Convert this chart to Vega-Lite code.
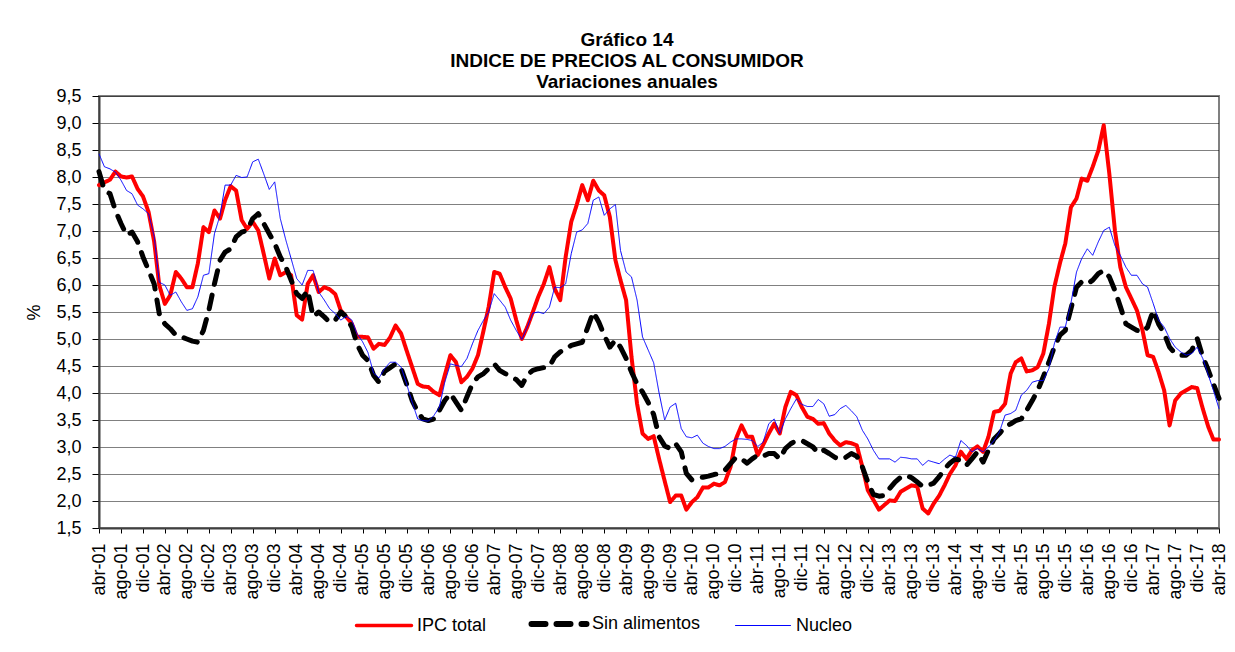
{
  "$schema": "https://vega.github.io/schema/vega-lite/v6.json",
  "width": 1120,
  "height": 432,
  "autosize": {"type": "none"},
  "padding": {"left": 99, "top": 96, "right": 16, "bottom": 124},
  "background": "white",
  "title": {
    "text": ["Gráfico 14", "INDICE DE PRECIOS AL CONSUMIDOR", "Variaciones anuales"],
    "font": "Liberation Sans",
    "fontSize": 19,
    "fontWeight": "bold",
    "color": "#000000",
    "anchor": "middle",
    "frame": "bounds",
    "lineHeight": 21,
    "offset": -5
  },
  "config": {
    "view": {"stroke": "#808080", "strokeWidth": 2},
    "font": "Liberation Sans"
  },
  "data": {
    "values": [
      {"fecha": "2001-04-01", "IPC total": 7.85, "Sin alimentos": 8.1, "Nucleo": 8.43},
      {"fecha": "2001-05-01", "IPC total": 7.9, "Sin alimentos": 7.75, "Nucleo": 8.19},
      {"fecha": "2001-06-01", "IPC total": 7.95, "Sin alimentos": 7.69, "Nucleo": 8.15},
      {"fecha": "2001-07-01", "IPC total": 8.1, "Sin alimentos": 7.38, "Nucleo": 8.09},
      {"fecha": "2001-08-01", "IPC total": 8.01, "Sin alimentos": 7.14, "Nucleo": 7.94},
      {"fecha": "2001-09-01", "IPC total": 7.99, "Sin alimentos": 6.92, "Nucleo": 7.75},
      {"fecha": "2001-10-01", "IPC total": 8.01, "Sin alimentos": 6.98, "Nucleo": 7.69},
      {"fecha": "2001-11-01", "IPC total": 7.78, "Sin alimentos": 6.8, "Nucleo": 7.48},
      {"fecha": "2001-12-01", "IPC total": 7.64, "Sin alimentos": 6.52, "Nucleo": 7.41},
      {"fecha": "2002-01-01", "IPC total": 7.35, "Sin alimentos": 6.27, "Nucleo": 7.32},
      {"fecha": "2002-02-01", "IPC total": 6.8, "Sin alimentos": 6.02, "Nucleo": 6.9},
      {"fecha": "2002-03-01", "IPC total": 6.0, "Sin alimentos": 5.47, "Nucleo": 6.05},
      {"fecha": "2002-04-01", "IPC total": 5.65, "Sin alimentos": 5.28, "Nucleo": 6.0},
      {"fecha": "2002-05-01", "IPC total": 5.81, "Sin alimentos": 5.19, "Nucleo": 5.81},
      {"fecha": "2002-06-01", "IPC total": 6.24, "Sin alimentos": 5.07, "Nucleo": 5.87},
      {"fecha": "2002-07-01", "IPC total": 6.12, "Sin alimentos": 5.04, "Nucleo": 5.69},
      {"fecha": "2002-08-01", "IPC total": 5.96, "Sin alimentos": 5.0, "Nucleo": 5.53},
      {"fecha": "2002-09-01", "IPC total": 5.96, "Sin alimentos": 4.96, "Nucleo": 5.56},
      {"fecha": "2002-10-01", "IPC total": 6.4, "Sin alimentos": 4.94, "Nucleo": 5.78},
      {"fecha": "2002-11-01", "IPC total": 7.07, "Sin alimentos": 5.16, "Nucleo": 6.18},
      {"fecha": "2002-12-01", "IPC total": 6.98, "Sin alimentos": 5.53, "Nucleo": 6.21},
      {"fecha": "2003-01-01", "IPC total": 7.38, "Sin alimentos": 6.02, "Nucleo": 6.95},
      {"fecha": "2003-02-01", "IPC total": 7.23, "Sin alimentos": 6.46, "Nucleo": 7.29},
      {"fecha": "2003-03-01", "IPC total": 7.57, "Sin alimentos": 6.61, "Nucleo": 7.85},
      {"fecha": "2003-04-01", "IPC total": 7.83, "Sin alimentos": 6.67, "Nucleo": 7.85},
      {"fecha": "2003-05-01", "IPC total": 7.75, "Sin alimentos": 6.89, "Nucleo": 8.03},
      {"fecha": "2003-06-01", "IPC total": 7.2, "Sin alimentos": 6.98, "Nucleo": 7.99},
      {"fecha": "2003-07-01", "IPC total": 7.04, "Sin alimentos": 7.01, "Nucleo": 8.0},
      {"fecha": "2003-08-01", "IPC total": 7.17, "Sin alimentos": 7.23, "Nucleo": 8.28},
      {"fecha": "2003-09-01", "IPC total": 7.01, "Sin alimentos": 7.32, "Nucleo": 8.33},
      {"fecha": "2003-10-01", "IPC total": 6.58, "Sin alimentos": 7.14, "Nucleo": 8.06},
      {"fecha": "2003-11-01", "IPC total": 6.12, "Sin alimentos": 6.95, "Nucleo": 7.77},
      {"fecha": "2003-12-01", "IPC total": 6.49, "Sin alimentos": 6.77, "Nucleo": 7.91},
      {"fecha": "2004-01-01", "IPC total": 6.18, "Sin alimentos": 6.52, "Nucleo": 7.23},
      {"fecha": "2004-02-01", "IPC total": 6.24, "Sin alimentos": 6.33, "Nucleo": 6.83},
      {"fecha": "2004-03-01", "IPC total": 6.18, "Sin alimentos": 6.09, "Nucleo": 6.49},
      {"fecha": "2004-04-01", "IPC total": 5.44, "Sin alimentos": 5.84, "Nucleo": 6.12},
      {"fecha": "2004-05-01", "IPC total": 5.36, "Sin alimentos": 5.75, "Nucleo": 6.0},
      {"fecha": "2004-06-01", "IPC total": 6.02, "Sin alimentos": 5.9, "Nucleo": 6.27},
      {"fecha": "2004-07-01", "IPC total": 6.18, "Sin alimentos": 5.41, "Nucleo": 6.27},
      {"fecha": "2004-08-01", "IPC total": 5.87, "Sin alimentos": 5.5, "Nucleo": 5.87},
      {"fecha": "2004-09-01", "IPC total": 5.96, "Sin alimentos": 5.41, "Nucleo": 5.72},
      {"fecha": "2004-10-01", "IPC total": 5.92, "Sin alimentos": 5.31, "Nucleo": 5.56},
      {"fecha": "2004-11-01", "IPC total": 5.83, "Sin alimentos": 5.35, "Nucleo": 5.47},
      {"fecha": "2004-12-01", "IPC total": 5.53, "Sin alimentos": 5.5, "Nucleo": 5.35},
      {"fecha": "2005-01-01", "IPC total": 5.41, "Sin alimentos": 5.41, "Nucleo": 5.42},
      {"fecha": "2005-02-01", "IPC total": 5.28, "Sin alimentos": 5.22, "Nucleo": 5.35},
      {"fecha": "2005-03-01", "IPC total": 5.04, "Sin alimentos": 4.91, "Nucleo": 5.1},
      {"fecha": "2005-04-01", "IPC total": 5.04, "Sin alimentos": 4.7, "Nucleo": 4.95},
      {"fecha": "2005-05-01", "IPC total": 5.03, "Sin alimentos": 4.6, "Nucleo": 4.75},
      {"fecha": "2005-06-01", "IPC total": 4.82, "Sin alimentos": 4.33, "Nucleo": 4.37},
      {"fecha": "2005-07-01", "IPC total": 4.91, "Sin alimentos": 4.2, "Nucleo": 4.28},
      {"fecha": "2005-08-01", "IPC total": 4.89, "Sin alimentos": 4.4, "Nucleo": 4.45},
      {"fecha": "2005-09-01", "IPC total": 5.03, "Sin alimentos": 4.47, "Nucleo": 4.57},
      {"fecha": "2005-10-01", "IPC total": 5.25, "Sin alimentos": 4.54, "Nucleo": 4.57},
      {"fecha": "2005-11-01", "IPC total": 5.1, "Sin alimentos": 4.45, "Nucleo": 4.48},
      {"fecha": "2005-12-01", "IPC total": 4.79, "Sin alimentos": 4.17, "Nucleo": 4.17},
      {"fecha": "2006-01-01", "IPC total": 4.48, "Sin alimentos": 3.86, "Nucleo": 3.83},
      {"fecha": "2006-02-01", "IPC total": 4.17, "Sin alimentos": 3.65, "Nucleo": 3.52},
      {"fecha": "2006-03-01", "IPC total": 4.12, "Sin alimentos": 3.52, "Nucleo": 3.49},
      {"fecha": "2006-04-01", "IPC total": 4.11, "Sin alimentos": 3.49, "Nucleo": 3.48},
      {"fecha": "2006-05-01", "IPC total": 4.02, "Sin alimentos": 3.52, "Nucleo": 3.58},
      {"fecha": "2006-06-01", "IPC total": 3.96, "Sin alimentos": 3.68, "Nucleo": 3.74},
      {"fecha": "2006-07-01", "IPC total": 4.33, "Sin alimentos": 3.86, "Nucleo": 4.2},
      {"fecha": "2006-08-01", "IPC total": 4.7, "Sin alimentos": 3.99, "Nucleo": 4.54},
      {"fecha": "2006-09-01", "IPC total": 4.57, "Sin alimentos": 3.83, "Nucleo": 4.51},
      {"fecha": "2006-10-01", "IPC total": 4.2, "Sin alimentos": 3.68, "Nucleo": 4.49},
      {"fecha": "2006-11-01", "IPC total": 4.3, "Sin alimentos": 3.93, "Nucleo": 4.64},
      {"fecha": "2006-12-01", "IPC total": 4.45, "Sin alimentos": 4.17, "Nucleo": 4.91},
      {"fecha": "2007-01-01", "IPC total": 4.7, "Sin alimentos": 4.3, "Nucleo": 5.16},
      {"fecha": "2007-02-01", "IPC total": 5.16, "Sin alimentos": 4.36, "Nucleo": 5.35},
      {"fecha": "2007-03-01", "IPC total": 5.59, "Sin alimentos": 4.45, "Nucleo": 5.5},
      {"fecha": "2007-04-01", "IPC total": 6.24, "Sin alimentos": 4.54, "Nucleo": 5.84},
      {"fecha": "2007-05-01", "IPC total": 6.21, "Sin alimentos": 4.42, "Nucleo": 5.72},
      {"fecha": "2007-06-01", "IPC total": 5.96, "Sin alimentos": 4.36, "Nucleo": 5.59},
      {"fecha": "2007-07-01", "IPC total": 5.75, "Sin alimentos": 4.3, "Nucleo": 5.35},
      {"fecha": "2007-08-01", "IPC total": 5.35, "Sin alimentos": 4.25, "Nucleo": 5.16},
      {"fecha": "2007-09-01", "IPC total": 5.0, "Sin alimentos": 4.14, "Nucleo": 4.99},
      {"fecha": "2007-10-01", "IPC total": 5.22, "Sin alimentos": 4.33, "Nucleo": 5.22},
      {"fecha": "2007-11-01", "IPC total": 5.5, "Sin alimentos": 4.42, "Nucleo": 5.48},
      {"fecha": "2007-12-01", "IPC total": 5.78, "Sin alimentos": 4.45, "Nucleo": 5.5},
      {"fecha": "2008-01-01", "IPC total": 6.02, "Sin alimentos": 4.47, "Nucleo": 5.47},
      {"fecha": "2008-02-01", "IPC total": 6.33, "Sin alimentos": 4.49, "Nucleo": 5.59},
      {"fecha": "2008-03-01", "IPC total": 5.93, "Sin alimentos": 4.67, "Nucleo": 5.96},
      {"fecha": "2008-04-01", "IPC total": 5.72, "Sin alimentos": 4.76, "Nucleo": 5.95},
      {"fecha": "2008-05-01", "IPC total": 6.52, "Sin alimentos": 4.82, "Nucleo": 6.02},
      {"fecha": "2008-06-01", "IPC total": 7.17, "Sin alimentos": 4.88, "Nucleo": 6.58},
      {"fecha": "2008-07-01", "IPC total": 7.48, "Sin alimentos": 4.91, "Nucleo": 6.98},
      {"fecha": "2008-08-01", "IPC total": 7.85, "Sin alimentos": 4.94, "Nucleo": 7.02},
      {"fecha": "2008-09-01", "IPC total": 7.57, "Sin alimentos": 5.22, "Nucleo": 7.14},
      {"fecha": "2008-10-01", "IPC total": 7.93, "Sin alimentos": 5.5, "Nucleo": 7.57},
      {"fecha": "2008-11-01", "IPC total": 7.75, "Sin alimentos": 5.31, "Nucleo": 7.63},
      {"fecha": "2008-12-01", "IPC total": 7.66, "Sin alimentos": 5.07, "Nucleo": 7.29},
      {"fecha": "2009-01-01", "IPC total": 7.26, "Sin alimentos": 4.85, "Nucleo": 7.41},
      {"fecha": "2009-02-01", "IPC total": 6.46, "Sin alimentos": 4.98, "Nucleo": 7.49},
      {"fecha": "2009-03-01", "IPC total": 6.09, "Sin alimentos": 4.85, "Nucleo": 6.64},
      {"fecha": "2009-04-01", "IPC total": 5.72, "Sin alimentos": 4.64, "Nucleo": 6.24},
      {"fecha": "2009-05-01", "IPC total": 4.67, "Sin alimentos": 4.39, "Nucleo": 6.15},
      {"fecha": "2009-06-01", "IPC total": 3.8, "Sin alimentos": 4.17, "Nucleo": 5.72},
      {"fecha": "2009-07-01", "IPC total": 3.25, "Sin alimentos": 4.02, "Nucleo": 5.04},
      {"fecha": "2009-08-01", "IPC total": 3.15, "Sin alimentos": 3.83, "Nucleo": 4.8},
      {"fecha": "2009-09-01", "IPC total": 3.2, "Sin alimentos": 3.6, "Nucleo": 4.56},
      {"fecha": "2009-10-01", "IPC total": 2.78, "Sin alimentos": 3.19, "Nucleo": 4.0},
      {"fecha": "2009-11-01", "IPC total": 2.37, "Sin alimentos": 3.02, "Nucleo": 3.5},
      {"fecha": "2009-12-01", "IPC total": 1.98, "Sin alimentos": 2.97, "Nucleo": 3.74},
      {"fecha": "2010-01-01", "IPC total": 2.1, "Sin alimentos": 3.06, "Nucleo": 3.81},
      {"fecha": "2010-02-01", "IPC total": 2.1, "Sin alimentos": 2.91, "Nucleo": 3.34},
      {"fecha": "2010-03-01", "IPC total": 1.84, "Sin alimentos": 2.51, "Nucleo": 3.19},
      {"fecha": "2010-04-01", "IPC total": 1.98, "Sin alimentos": 2.39, "Nucleo": 3.17},
      {"fecha": "2010-05-01", "IPC total": 2.07, "Sin alimentos": 2.43, "Nucleo": 3.22},
      {"fecha": "2010-06-01", "IPC total": 2.25, "Sin alimentos": 2.44, "Nucleo": 3.07},
      {"fecha": "2010-07-01", "IPC total": 2.25, "Sin alimentos": 2.46, "Nucleo": 3.01},
      {"fecha": "2010-08-01", "IPC total": 2.32, "Sin alimentos": 2.49, "Nucleo": 2.97},
      {"fecha": "2010-09-01", "IPC total": 2.29, "Sin alimentos": 2.51, "Nucleo": 2.97},
      {"fecha": "2010-10-01", "IPC total": 2.35, "Sin alimentos": 2.57, "Nucleo": 3.01},
      {"fecha": "2010-11-01", "IPC total": 2.63, "Sin alimentos": 2.69, "Nucleo": 3.09},
      {"fecha": "2010-12-01", "IPC total": 3.15, "Sin alimentos": 2.81, "Nucleo": 3.15},
      {"fecha": "2011-01-01", "IPC total": 3.4, "Sin alimentos": 2.78, "Nucleo": 3.15},
      {"fecha": "2011-02-01", "IPC total": 3.19, "Sin alimentos": 2.7, "Nucleo": 3.14},
      {"fecha": "2011-03-01", "IPC total": 3.19, "Sin alimentos": 2.78, "Nucleo": 3.12},
      {"fecha": "2011-04-01", "IPC total": 2.85, "Sin alimentos": 2.85, "Nucleo": 3.01},
      {"fecha": "2011-05-01", "IPC total": 3.04, "Sin alimentos": 2.83, "Nucleo": 3.09},
      {"fecha": "2011-06-01", "IPC total": 3.25, "Sin alimentos": 2.88, "Nucleo": 3.43},
      {"fecha": "2011-07-01", "IPC total": 3.43, "Sin alimentos": 2.88, "Nucleo": 3.52},
      {"fecha": "2011-08-01", "IPC total": 3.25, "Sin alimentos": 2.78, "Nucleo": 3.25},
      {"fecha": "2011-09-01", "IPC total": 3.74, "Sin alimentos": 2.97, "Nucleo": 3.52},
      {"fecha": "2011-10-01", "IPC total": 4.02, "Sin alimentos": 3.06, "Nucleo": 3.71},
      {"fecha": "2011-11-01", "IPC total": 3.96, "Sin alimentos": 3.12, "Nucleo": 3.89},
      {"fecha": "2011-12-01", "IPC total": 3.74, "Sin alimentos": 3.12, "Nucleo": 3.79},
      {"fecha": "2012-01-01", "IPC total": 3.56, "Sin alimentos": 3.06, "Nucleo": 3.75},
      {"fecha": "2012-02-01", "IPC total": 3.52, "Sin alimentos": 3.0, "Nucleo": 3.75},
      {"fecha": "2012-03-01", "IPC total": 3.43, "Sin alimentos": 2.89, "Nucleo": 3.88},
      {"fecha": "2012-04-01", "IPC total": 3.44, "Sin alimentos": 2.94, "Nucleo": 3.8},
      {"fecha": "2012-05-01", "IPC total": 3.25, "Sin alimentos": 2.88, "Nucleo": 3.57},
      {"fecha": "2012-06-01", "IPC total": 3.12, "Sin alimentos": 2.81, "Nucleo": 3.6},
      {"fecha": "2012-07-01", "IPC total": 3.03, "Sin alimentos": 2.77, "Nucleo": 3.71},
      {"fecha": "2012-08-01", "IPC total": 3.09, "Sin alimentos": 2.81, "Nucleo": 3.77},
      {"fecha": "2012-09-01", "IPC total": 3.07, "Sin alimentos": 2.88, "Nucleo": 3.67},
      {"fecha": "2012-10-01", "IPC total": 3.03, "Sin alimentos": 2.83, "Nucleo": 3.56},
      {"fecha": "2012-11-01", "IPC total": 2.63, "Sin alimentos": 2.63, "Nucleo": 3.31},
      {"fecha": "2012-12-01", "IPC total": 2.2, "Sin alimentos": 2.35, "Nucleo": 3.15},
      {"fecha": "2013-01-01", "IPC total": 2.02, "Sin alimentos": 2.12, "Nucleo": 2.94},
      {"fecha": "2013-02-01", "IPC total": 1.84, "Sin alimentos": 2.09, "Nucleo": 2.78},
      {"fecha": "2013-03-01", "IPC total": 1.92, "Sin alimentos": 2.1, "Nucleo": 2.78},
      {"fecha": "2013-04-01", "IPC total": 2.01, "Sin alimentos": 2.23, "Nucleo": 2.78},
      {"fecha": "2013-05-01", "IPC total": 2.0, "Sin alimentos": 2.35, "Nucleo": 2.72},
      {"fecha": "2013-06-01", "IPC total": 2.17, "Sin alimentos": 2.44, "Nucleo": 2.81},
      {"fecha": "2013-07-01", "IPC total": 2.23, "Sin alimentos": 2.48, "Nucleo": 2.8},
      {"fecha": "2013-08-01", "IPC total": 2.29, "Sin alimentos": 2.43, "Nucleo": 2.78},
      {"fecha": "2013-09-01", "IPC total": 2.27, "Sin alimentos": 2.35, "Nucleo": 2.78},
      {"fecha": "2013-10-01", "IPC total": 1.86, "Sin alimentos": 2.27, "Nucleo": 2.66},
      {"fecha": "2013-11-01", "IPC total": 1.77, "Sin alimentos": 2.29, "Nucleo": 2.75},
      {"fecha": "2013-12-01", "IPC total": 1.95, "Sin alimentos": 2.33, "Nucleo": 2.72},
      {"fecha": "2014-01-01", "IPC total": 2.1, "Sin alimentos": 2.45, "Nucleo": 2.69},
      {"fecha": "2014-02-01", "IPC total": 2.3, "Sin alimentos": 2.6, "Nucleo": 2.78},
      {"fecha": "2014-03-01", "IPC total": 2.5, "Sin alimentos": 2.7, "Nucleo": 2.85},
      {"fecha": "2014-04-01", "IPC total": 2.66, "Sin alimentos": 2.78, "Nucleo": 2.81},
      {"fecha": "2014-05-01", "IPC total": 2.91, "Sin alimentos": 2.75, "Nucleo": 3.12},
      {"fecha": "2014-06-01", "IPC total": 2.78, "Sin alimentos": 2.66, "Nucleo": 3.03},
      {"fecha": "2014-07-01", "IPC total": 2.94, "Sin alimentos": 2.78, "Nucleo": 2.91},
      {"fecha": "2014-08-01", "IPC total": 3.01, "Sin alimentos": 2.91, "Nucleo": 2.97},
      {"fecha": "2014-09-01", "IPC total": 2.91, "Sin alimentos": 2.72, "Nucleo": 2.91},
      {"fecha": "2014-10-01", "IPC total": 3.19, "Sin alimentos": 2.94, "Nucleo": 3.0},
      {"fecha": "2014-11-01", "IPC total": 3.65, "Sin alimentos": 3.15, "Nucleo": 3.12},
      {"fecha": "2014-12-01", "IPC total": 3.67, "Sin alimentos": 3.25, "Nucleo": 3.28},
      {"fecha": "2015-01-01", "IPC total": 3.8, "Sin alimentos": 3.37, "Nucleo": 3.59},
      {"fecha": "2015-02-01", "IPC total": 4.36, "Sin alimentos": 3.43, "Nucleo": 3.62},
      {"fecha": "2015-03-01", "IPC total": 4.57, "Sin alimentos": 3.49, "Nucleo": 3.68},
      {"fecha": "2015-04-01", "IPC total": 4.64, "Sin alimentos": 3.52, "Nucleo": 3.96},
      {"fecha": "2015-05-01", "IPC total": 4.4, "Sin alimentos": 3.68, "Nucleo": 4.05},
      {"fecha": "2015-06-01", "IPC total": 4.42, "Sin alimentos": 3.86, "Nucleo": 4.2},
      {"fecha": "2015-07-01", "IPC total": 4.48, "Sin alimentos": 4.05, "Nucleo": 4.23},
      {"fecha": "2015-08-01", "IPC total": 4.73, "Sin alimentos": 4.3, "Nucleo": 4.23},
      {"fecha": "2015-09-01", "IPC total": 5.28, "Sin alimentos": 4.57, "Nucleo": 4.45},
      {"fecha": "2015-10-01", "IPC total": 5.96, "Sin alimentos": 4.85, "Nucleo": 4.91},
      {"fecha": "2015-11-01", "IPC total": 6.4, "Sin alimentos": 5.07, "Nucleo": 5.22},
      {"fecha": "2015-12-01", "IPC total": 6.77, "Sin alimentos": 5.16, "Nucleo": 5.22},
      {"fecha": "2016-01-01", "IPC total": 7.44, "Sin alimentos": 5.56, "Nucleo": 5.66},
      {"fecha": "2016-02-01", "IPC total": 7.6, "Sin alimentos": 5.96, "Nucleo": 6.24},
      {"fecha": "2016-03-01", "IPC total": 7.97, "Sin alimentos": 6.06, "Nucleo": 6.49},
      {"fecha": "2016-04-01", "IPC total": 7.93, "Sin alimentos": 6.02, "Nucleo": 6.67},
      {"fecha": "2016-05-01", "IPC total": 8.19, "Sin alimentos": 6.09, "Nucleo": 6.55},
      {"fecha": "2016-06-01", "IPC total": 8.49, "Sin alimentos": 6.21, "Nucleo": 6.8},
      {"fecha": "2016-07-01", "IPC total": 8.96, "Sin alimentos": 6.27, "Nucleo": 7.01},
      {"fecha": "2016-08-01", "IPC total": 8.06, "Sin alimentos": 6.15, "Nucleo": 7.07},
      {"fecha": "2016-09-01", "IPC total": 7.01, "Sin alimentos": 5.9, "Nucleo": 6.73},
      {"fecha": "2016-10-01", "IPC total": 6.33, "Sin alimentos": 5.6, "Nucleo": 6.55},
      {"fecha": "2016-11-01", "IPC total": 5.96, "Sin alimentos": 5.28, "Nucleo": 6.33},
      {"fecha": "2016-12-01", "IPC total": 5.75, "Sin alimentos": 5.22, "Nucleo": 6.18},
      {"fecha": "2017-01-01", "IPC total": 5.53, "Sin alimentos": 5.16, "Nucleo": 6.18},
      {"fecha": "2017-02-01", "IPC total": 5.16, "Sin alimentos": 5.13, "Nucleo": 6.02},
      {"fecha": "2017-03-01", "IPC total": 4.7, "Sin alimentos": 5.22, "Nucleo": 5.96},
      {"fecha": "2017-04-01", "IPC total": 4.67, "Sin alimentos": 5.53, "Nucleo": 5.66},
      {"fecha": "2017-05-01", "IPC total": 4.39, "Sin alimentos": 5.28, "Nucleo": 5.35},
      {"fecha": "2017-06-01", "IPC total": 4.05, "Sin alimentos": 5.1, "Nucleo": 5.22},
      {"fecha": "2017-07-01", "IPC total": 3.4, "Sin alimentos": 4.85, "Nucleo": 5.01},
      {"fecha": "2017-08-01", "IPC total": 3.86, "Sin alimentos": 4.73, "Nucleo": 4.85},
      {"fecha": "2017-09-01", "IPC total": 3.99, "Sin alimentos": 4.7, "Nucleo": 4.76},
      {"fecha": "2017-10-01", "IPC total": 4.05, "Sin alimentos": 4.7, "Nucleo": 4.7},
      {"fecha": "2017-11-01", "IPC total": 4.11, "Sin alimentos": 4.79, "Nucleo": 4.73},
      {"fecha": "2017-12-01", "IPC total": 4.09, "Sin alimentos": 5.01, "Nucleo": 4.85},
      {"fecha": "2018-01-01", "IPC total": 3.71, "Sin alimentos": 4.67, "Nucleo": 4.64},
      {"fecha": "2018-02-01", "IPC total": 3.37, "Sin alimentos": 4.42, "Nucleo": 4.33},
      {"fecha": "2018-03-01", "IPC total": 3.14, "Sin alimentos": 4.17, "Nucleo": 4.05},
      {"fecha": "2018-04-01", "IPC total": 3.14, "Sin alimentos": 3.9, "Nucleo": 3.71}
    ]
  },
  "transform": [
    {"fold": ["IPC total", "Sin alimentos", "Nucleo"], "as": ["serie", "valor"]}
  ],
  "encoding": {
    "x": {
      "field": "fecha",
      "type": "temporal",
      "scale": {
        "type": "utc",
        "nice": false,
        "domain": [
          {"year": 2001, "month": 4, "date": 1, "utc": true},
          {"year": 2018, "month": 4, "date": 1, "utc": true}
        ]
      },
      "axis": {
        "title": null,
        "grid": false,
        "values": [
          {"year": 2001, "month": 4, "date": 1, "utc": true}, {"year": 2001, "month": 8, "date": 1, "utc": true}, {"year": 2001, "month": 12, "date": 1, "utc": true},
          {"year": 2002, "month": 4, "date": 1, "utc": true}, {"year": 2002, "month": 8, "date": 1, "utc": true}, {"year": 2002, "month": 12, "date": 1, "utc": true},
          {"year": 2003, "month": 4, "date": 1, "utc": true}, {"year": 2003, "month": 8, "date": 1, "utc": true}, {"year": 2003, "month": 12, "date": 1, "utc": true},
          {"year": 2004, "month": 4, "date": 1, "utc": true}, {"year": 2004, "month": 8, "date": 1, "utc": true}, {"year": 2004, "month": 12, "date": 1, "utc": true},
          {"year": 2005, "month": 4, "date": 1, "utc": true}, {"year": 2005, "month": 8, "date": 1, "utc": true}, {"year": 2005, "month": 12, "date": 1, "utc": true},
          {"year": 2006, "month": 4, "date": 1, "utc": true}, {"year": 2006, "month": 8, "date": 1, "utc": true}, {"year": 2006, "month": 12, "date": 1, "utc": true},
          {"year": 2007, "month": 4, "date": 1, "utc": true}, {"year": 2007, "month": 8, "date": 1, "utc": true}, {"year": 2007, "month": 12, "date": 1, "utc": true},
          {"year": 2008, "month": 4, "date": 1, "utc": true}, {"year": 2008, "month": 8, "date": 1, "utc": true}, {"year": 2008, "month": 12, "date": 1, "utc": true},
          {"year": 2009, "month": 4, "date": 1, "utc": true}, {"year": 2009, "month": 8, "date": 1, "utc": true}, {"year": 2009, "month": 12, "date": 1, "utc": true},
          {"year": 2010, "month": 4, "date": 1, "utc": true}, {"year": 2010, "month": 8, "date": 1, "utc": true}, {"year": 2010, "month": 12, "date": 1, "utc": true},
          {"year": 2011, "month": 4, "date": 1, "utc": true}, {"year": 2011, "month": 8, "date": 1, "utc": true}, {"year": 2011, "month": 12, "date": 1, "utc": true},
          {"year": 2012, "month": 4, "date": 1, "utc": true}, {"year": 2012, "month": 8, "date": 1, "utc": true}, {"year": 2012, "month": 12, "date": 1, "utc": true},
          {"year": 2013, "month": 4, "date": 1, "utc": true}, {"year": 2013, "month": 8, "date": 1, "utc": true}, {"year": 2013, "month": 12, "date": 1, "utc": true},
          {"year": 2014, "month": 4, "date": 1, "utc": true}, {"year": 2014, "month": 8, "date": 1, "utc": true}, {"year": 2014, "month": 12, "date": 1, "utc": true},
          {"year": 2015, "month": 4, "date": 1, "utc": true}, {"year": 2015, "month": 8, "date": 1, "utc": true}, {"year": 2015, "month": 12, "date": 1, "utc": true},
          {"year": 2016, "month": 4, "date": 1, "utc": true}, {"year": 2016, "month": 8, "date": 1, "utc": true}, {"year": 2016, "month": 12, "date": 1, "utc": true},
          {"year": 2017, "month": 4, "date": 1, "utc": true}, {"year": 2017, "month": 8, "date": 1, "utc": true}, {"year": 2017, "month": 12, "date": 1, "utc": true},
          {"year": 2018, "month": 4, "date": 1, "utc": true}
        ],
        "labelExpr": "['ene','feb','mar','abr','may','jun','jul','ago','sep','oct','nov','dic'][utcmonth(datum.value)] + '-' + utcFormat(datum.value, '%y')",
        "labelAngle": 270,
        "labelFont": "Liberation Sans",
        "labelFontSize": 18,
        "labelColor": "#000000",
        "labelOverlap": false,
        "labelFlush": false,
        "labelBound": false,
        "labelPadding": 10,
        "tickSize": 5,
        "tickColor": "#000000",
        "domainColor": "#404040",
        "domainWidth": 2
      }
    },
    "y": {
      "field": "valor",
      "type": "quantitative",
      "scale": {"domain": [1.5, 9.5], "nice": false, "zero": false},
      "axis": {
        "title": "%",
        "titleFont": "Liberation Sans",
        "titleFontSize": 18,
        "titleFontWeight": "normal",
        "titleColor": "#000000",
        "titlePadding": 12,
        "values": [1.5, 2, 2.5, 3, 3.5, 4, 4.5, 5, 5.5, 6, 6.5, 7, 7.5, 8, 8.5, 9, 9.5],
        "labelExpr": "replace(format(datum.value, '.1f'), '.', ',')",
        "labelFont": "Liberation Sans",
        "labelFontSize": 18,
        "labelColor": "#000000",
        "labelPadding": 11,
        "tickSize": 7,
        "tickColor": "#000000",
        "grid": true,
        "gridColor": "#000000",
        "gridDash": [1, 1],
        "gridWidth": 1,
        "domainColor": "#404040",
        "domainWidth": 2
      }
    },
    "color": {
      "field": "serie",
      "type": "nominal",
      "scale": {"domain": ["IPC total", "Sin alimentos", "Nucleo"], "range": ["#FF0000", "#000000", "#0000FF"]},
      "legend": {
        "orient": "none",
        "legendX": 276,
        "legendY": 519,
        "direction": "horizontal",
        "title": null,
        "symbolType": "stroke",
        "symbolSize": 3025,
        "labelFont": "Liberation Sans",
        "labelFontSize": 18,
        "labelColor": "#000000",
        "labelOffset": 24,
        "columnPadding": 32,
        "padding": 0,
        "encode": {
          "symbols": {
            "update": {
              "strokeWidth": {"signal": "datum.value === 'Nucleo' ? 1 : datum.value === 'IPC total' ? 3.5 : 6"},
              "strokeCap": {"value": "round"}
            }
          }
        }
      }
    },
    "strokeDash": {
      "field": "serie",
      "type": "nominal",
      "scale": {"domain": ["IPC total", "Sin alimentos", "Nucleo"], "range": [[1, 0], [14, 11], [1, 0]]},
      "legend": {
        "orient": "none",
        "legendX": 276,
        "legendY": 519,
        "direction": "horizontal",
        "title": null,
        "symbolType": "stroke",
        "symbolSize": 3025,
        "labelFont": "Liberation Sans",
        "labelFontSize": 18,
        "labelColor": "#000000",
        "labelOffset": 24,
        "columnPadding": 32,
        "padding": 0,
        "encode": {
          "symbols": {
            "update": {
              "strokeWidth": {"signal": "datum.value === 'Nucleo' ? 1 : datum.value === 'IPC total' ? 3.5 : 6"},
              "strokeCap": {"value": "round"}
            }
          }
        }
      }
    }
  },
  "layer": [
    {
      "transform": [{"filter": "datum.serie === 'IPC total'"}],
      "mark": {"type": "line", "strokeWidth": 4, "strokeJoin": "round", "strokeCap": "round"}
    },
    {
      "transform": [{"filter": "datum.serie === 'Sin alimentos'"}],
      "mark": {"type": "line", "strokeWidth": 5, "strokeJoin": "round", "strokeCap": "round"}
    },
    {
      "transform": [{"filter": "datum.serie === 'Nucleo'"}],
      "mark": {"type": "line", "strokeWidth": 1}
    }
  ]
}
